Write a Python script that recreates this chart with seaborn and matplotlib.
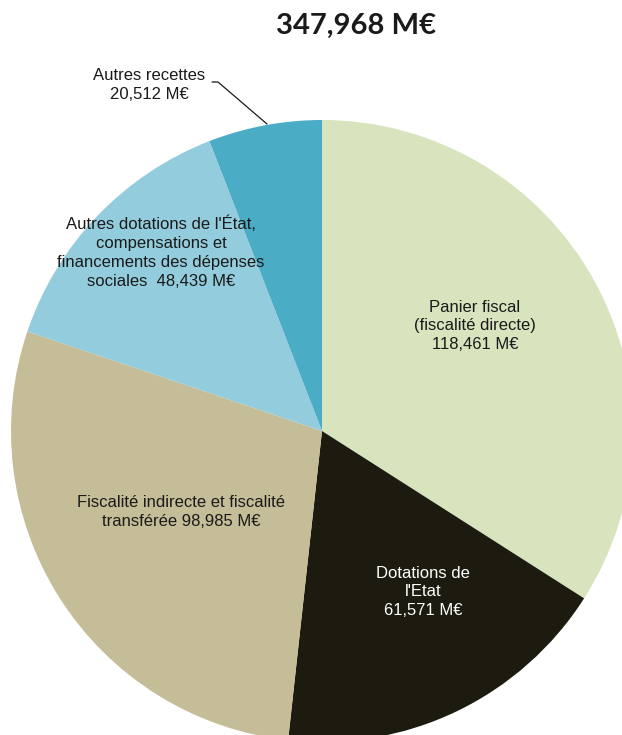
import matplotlib
matplotlib.use("Agg")
import matplotlib.pyplot as plt
import seaborn as sns

# ==========================================
# DATA
# ==========================================

categories = [
    "Panier fiscal\n(fiscalité directe)\n118,461 M€",
    "Dotations de\nl'Etat\n61,571 M€",
    "Fiscalité indirecte et fiscalité\ntransférée 98,985 M€",
    "Autres dotations de l'État,\ncompensations et\nfinancements des dépenses\nsociales  48,439 M€",
    "Autres recettes\n20,512 M€",
]
values = [118.461, 61.571, 98.985, 48.439, 20.512]
colors = ["#d7e4bd", "#1d1b10", "#c4bd97", "#93cddd", "#4bacc6"]
total_label = "347,968 M€"

# ==========================================
# STYLE
# ==========================================

sns.set_theme(style="white")
plt.rcParams["font.family"] = ["Liberation Sans", "DejaVu Sans"]
palette = sns.color_palette(colors)

W, H = 622, 735
fig = plt.figure(figsize=(W / 100, H / 100), dpi=100)

# pie centre and radius in pixels
cx, cy, r = 322, 431, 311
ax = fig.add_axes([(cx - r) / W, (H - cy - r) / H, 2 * r / W, 2 * r / H])

ax.pie(values, colors=palette, startangle=90, counterclock=False,
       radius=1, wedgeprops=dict(linewidth=0))

ax.set_xlim(-1, 1)
ax.set_ylim(-1, 1)
ax.set_aspect("equal")
ax.axis("off")


def px(x, y):
    return (x - cx) / r, (cy - y) / r


# ==========================================
# LABELS
# ==========================================

label_pos = [(475, 326), (423, 592), (181, 512), (161, 252), (149, 85)]
text_colors = ["#1a1a1a", "white", "#1a1a1a", "#1a1a1a", "#1a1a1a"]

for lab, pos, tc in zip(categories, label_pos, text_colors):
    x, y = px(*pos)
    ax.text(x, y, lab, ha="center", va="center", fontsize=12,
            color=tc, linespacing=1.32)

# leader line for "Autres recettes"
lx = [px(212, 82)[0], px(218, 82)[0], px(267, 124)[0]]
ly = [px(212, 82)[1], px(218, 82)[1], px(267, 124)[1]]
ax.plot(lx, ly, color="#1a1a1a", linewidth=0.9, clip_on=False)

fig.text(356 / W, 1 - 26 / H, total_label, ha="center", va="center",
         fontsize=21, fontweight="bold", color="#1a1a1a",
         family=["Lato", "DejaVu Sans"])

fig.savefig("out.png", dpi=100)
